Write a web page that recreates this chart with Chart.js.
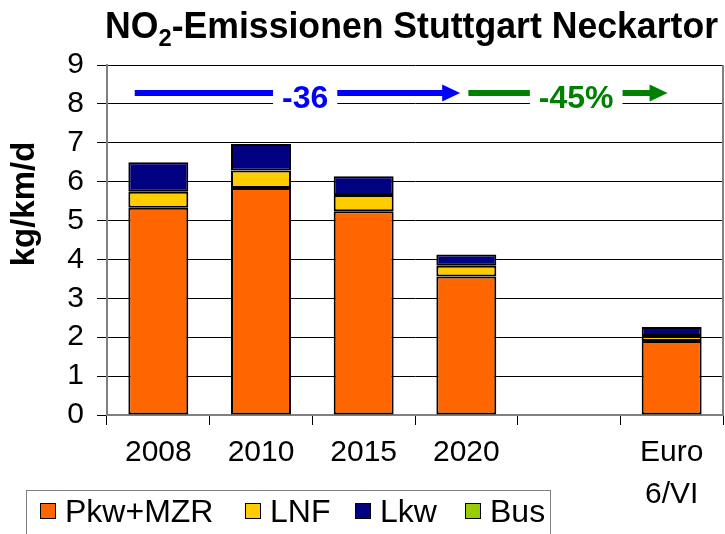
<!DOCTYPE html>
<html>
<head>
<meta charset="utf-8">
<script src="https://cdn.jsdelivr.net/npm/chart.js@4.4.0/dist/chart.umd.min.js"></script>
<style>
  html, body { margin: 0; padding: 0; background: #fff; }
</style>
</head>
<body>
<canvas id="no2-chart" width="725" height="534"></canvas>
<script>
const categories = ['2008', '2010', '2015', '2020', '', ['Euro', '6/VI']];
const pkwMzr = [5.33, 5.84, 5.24, 3.56, null, 1.90];
const lnf = [0.41, 0.45, 0.42, 0.28, null, 0.13];
const lkw = [0.76, 0.68, 0.48, 0.29, null, 0.23];
const bus = [0, 0, 0, 0, null, 0];
const yTicks = [0, 1, 2, 3, 4, 5, 6, 7, 8, 9];
const seriesNames = ['Pkw+MZR', 'LNF', 'Lkw', 'Bus'];
const reductionLabels = ['-36', '-45%'];

const FONT = "'Liberation Sans', Arial, sans-serif";
const colors = ['#ff6600', '#ffcc00', '#000080', '#99cc00'];

// title, axis title, arrows, legend and right frame line
const extras = {
  id: 'extras',
  afterDraw(chart) {
    const ctx = chart.ctx;
    const x = chart.scales.x;
    const y = chart.scales.y;
    const area = chart.chartArea;
    ctx.save();

    // right frame line
    ctx.strokeStyle = '#808080';
    ctx.lineWidth = 2;
    ctx.beginPath();
    ctx.moveTo(area.right, area.top);
    ctx.lineTo(area.right, area.bottom);
    ctx.stroke();

    // title with subscript, squeezed a little to fit like the original
    ctx.fillStyle = '#000';
    ctx.textBaseline = 'alphabetic';
    ctx.textAlign = 'left';
    const big = 'bold 36px ' + FONT, small = 'bold 24px ' + FONT;
    const rest = '-Emissionen Stuttgart Neckartor';
    ctx.font = big;
    const wNO = ctx.measureText('NO').width;
    const wRest = ctx.measureText(rest).width;
    ctx.font = small;
    const w2 = ctx.measureText('2').width;
    const sx = 613 / (wNO + w2 + wRest);
    ctx.save();
    ctx.translate(105, 0);
    ctx.scale(sx, 1);
    ctx.font = big;
    ctx.fillText('NO', 0, 38);
    ctx.font = small;
    ctx.fillText('2', wNO, 46);
    ctx.font = big;
    ctx.fillText(rest, wNO + w2, 38);
    ctx.restore();

    // y axis title
    ctx.save();
    ctx.translate(25, 204);
    ctx.rotate(-Math.PI / 2);
    ctx.font = 'bold 33px ' + FONT;
    ctx.textAlign = 'center';
    ctx.textBaseline = 'middle';
    ctx.fillText('kg/km/d', 0, 0);
    ctx.restore();

    // reduction arrows
    const arrows = [
      { from: -0.23, to: 2.94, mid: 1.43, color: '#0000ff' },
      { from: 3.02, to: 4.96, mid: 4.07, color: '#008000' }
    ];
    const lineY = y.getPixelForValue(8.28);
    const textY = y.getPixelForValue(8.12);
    arrows.forEach((a, i) => {
      const x0 = x.getPixelForValue(a.from);
      const x1 = x.getPixelForValue(a.to);
      const xm = x.getPixelForValue(a.mid);
      ctx.fillStyle = a.color;
      ctx.fillRect(x0, lineY - 3, x1 - 17 - x0, 6);
      ctx.beginPath();
      ctx.moveTo(x1 - 18, lineY - 8.5);
      ctx.lineTo(x1, lineY);
      ctx.lineTo(x1 - 18, lineY + 8.5);
      ctx.closePath();
      ctx.fill();
      ctx.font = 'bold 32px ' + FONT;
      const w = ctx.measureText(reductionLabels[i]).width;
      ctx.fillStyle = '#fff';
      ctx.fillRect(xm - w / 2 - 9, lineY - 10, w + 18, 22);
      ctx.fillStyle = a.color;
      ctx.textAlign = 'center';
      ctx.textBaseline = 'middle';
      ctx.fillText(reductionLabels[i], xm, textY);
    });

    // legend
    ctx.strokeStyle = '#808080';
    ctx.lineWidth = 1;
    ctx.strokeRect(26.5, 490.5, 524, 60);
    const legendX = [40, 245, 355, 465];
    ctx.font = '32px ' + FONT;
    ctx.textAlign = 'left';
    ctx.textBaseline = 'middle';
    seriesNames.forEach((name, i) => {
      ctx.fillStyle = colors[i];
      ctx.fillRect(legendX[i], 503, 16, 16);
      ctx.strokeStyle = '#000';
      ctx.strokeRect(legendX[i] + 0.5, 503.5, 15, 15);
      ctx.fillStyle = '#000';
      ctx.fillText(name, legendX[i] + 25, 513);
    });
    ctx.restore();
  }
};

const datasets = [pkwMzr, lnf, lkw, bus].map((values, i) => ({
  label: seriesNames[i],
  data: values,
  backgroundColor: colors[i],
  borderColor: '#000',
  borderWidth: c => (c.raw ? 2 : 0),
  borderSkipped: false,
  barPercentage: 0.584,
  categoryPercentage: 1.0
}));

new Chart('no2-chart', {
  type: 'bar',
  data: { labels: categories, datasets: datasets },
  options: {
    responsive: false,
    animation: false,
    layout: { padding: { top: 65, right: 2, left: 0, bottom: 0 } },
    plugins: {
      legend: { display: false },
      title: { display: false },
      tooltip: { enabled: false }
    },
    scales: {
      x: {
        stacked: true,
        grid: { offset: true, drawOnChartArea: false, tickLength: 10, color: '#000', lineWidth: 1 },
        border: { color: '#808080', width: 2 },
        ticks: { font: { size: 30, family: FONT, lineHeight: 1.42 }, color: '#000', padding: 6, maxRotation: 0, autoSkip: false },
        afterFit(s) { s.height = 119; }
      },
      y: {
        stacked: true,
        min: yTicks[0],
        max: yTicks[yTicks.length - 1],
        ticks: { stepSize: 1, autoSkip: false, font: { size: 30, family: FONT }, color: '#000', padding: 13 },
        grid: { color: '#000', lineWidth: 1, tickLength: 10 },
        border: { color: '#808080', width: 2 },
        afterFit(s) { s.width = 107; }
      }
    }
  },
  plugins: [extras]
});
</script>
</body>
</html>
